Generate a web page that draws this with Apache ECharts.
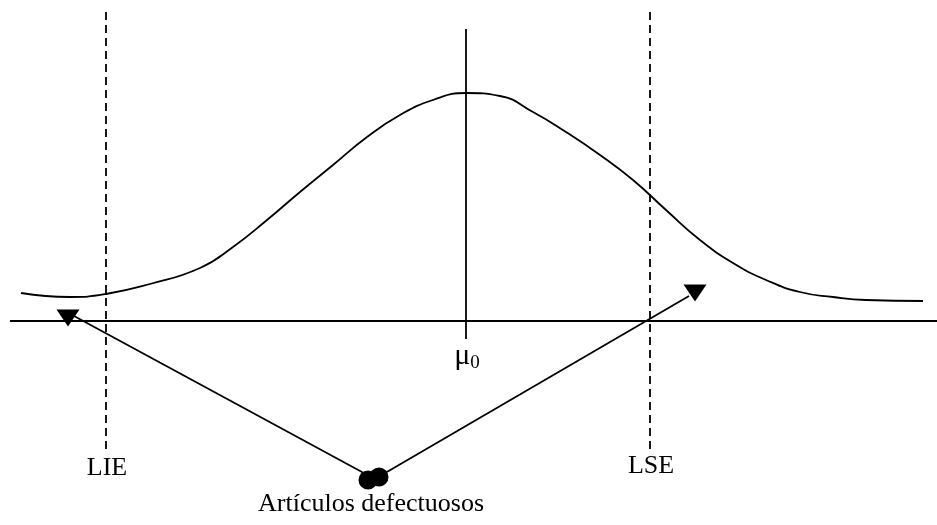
<!DOCTYPE html>
<html>
<head>
<meta charset="utf-8">
<script src="https://cdn.jsdelivr.net/npm/echarts@6/dist/echarts.min.js"></script>
<style>
  html, body { margin: 0; padding: 0; background: #fff; }
  #main { width: 937px; height: 525px; }
</style>
</head>
<body>
<div id="main"></div>
<script>
// bell curve (x, y in page-like units, y grows downward)
var curveX = [21, 70, 106, 150, 200, 233, 267, 300, 333, 367, 400, 433, 466, 500, 533, 566, 600, 633, 666, 700, 733, 766, 800, 833, 866, 923];
var curveY = [293, 297, 294, 284, 268, 247, 220, 192, 165, 137, 115, 100, 93, 96, 112, 132, 155, 180, 210, 240, 263, 280, 292, 297, 300, 301];

var baseLine = [[10, 321], [937, 321]];
var meanLine = [[466, 29], [466, 339]];
var lieLine = [[106, 12], [106, 452]];
var lseLine = [[650, 12], [650, 452]];

var leftArrow = [[373, 478], [74, 316]];
var rightArrow = [[380, 476], [689, 296]];
var arrowHeads = [[68, 318], [695, 293]];
var dots = [[368, 480], [379, 477]];

var labels = [
    [107, 468, 'LIE'],
    [651, 466, 'LSE'],
    [371, 504, 'Artículos defectuosos'],
    [467, 356, 'mu']
];

var myChart = echarts.init(document.getElementById('main'));

var curve = curveX.map(function (x, i) { return [x, curveY[i]]; });

function seg(data, dashed) {
    return {
        type: 'line',
        data: data,
        symbol: 'none',
        silent: true,
        lineStyle: { color: '#000', width: 1.8, type: dashed ? [8, 5] : 'solid' }
    };
}

var option = {
    animation: false,
    backgroundColor: '#fff',
    grid: { left: 0, right: 0, top: 0, bottom: 0 },
    xAxis: { type: 'value', min: 0, max: 937, show: false },
    yAxis: { type: 'value', min: 0, max: 525, inverse: true, show: false },
    series: [
        {
            type: 'line',
            data: curve,
            smooth: 0.5,
            symbol: 'none',
            lineStyle: { color: '#000', width: 1.8 }
        },
        seg(baseLine),
        seg(meanLine),
        seg(lieLine, true),
        seg(lseLine, true),
        seg(leftArrow),
        seg(rightArrow),
        {
            type: 'scatter',
            data: arrowHeads,
            symbol: 'triangle',
            symbolRotate: 180,
            symbolSize: [23, 17],
            itemStyle: { color: '#000', opacity: 1 }
        },
        {
            type: 'scatter',
            data: dots,
            symbol: 'circle',
            symbolSize: 19,
            itemStyle: { color: '#000', opacity: 1 }
        },
        {
            type: 'scatter',
            data: labels,
            symbolSize: 0,
            itemStyle: { opacity: 1 },
            label: {
                show: true,
                position: 'inside',
                color: '#000',
                fontFamily: 'Liberation Serif',
                fontSize: 26,
                formatter: function (p) {
                    if (p.value[2] === 'mu') return '{m|μ}{s|0}';
                    return p.value[2];
                },
                rich: {
                    m: { fontFamily: 'Liberation Serif', fontSize: 30, color: '#000' },
                    s: { fontFamily: 'Liberation Serif', fontSize: 19, color: '#000', padding: [14, 0, 0, 0] }
                }
            }
        }
    ]
};

myChart.setOption(option);
window.onresize = myChart.resize;
</script>
</body>
</html>
